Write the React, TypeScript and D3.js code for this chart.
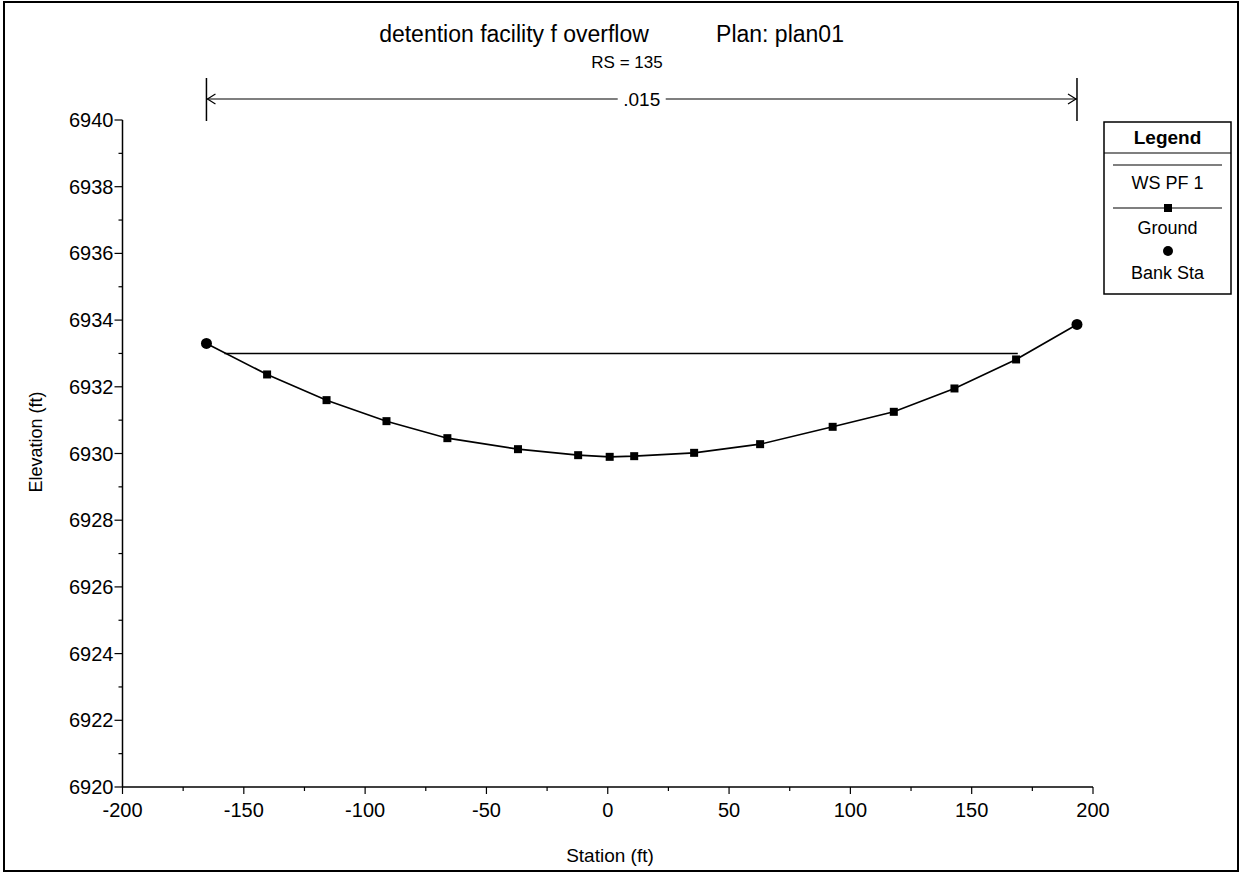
import React from "react";
import * as d3 from "d3";

const stations = [-165.4, -140.4, -115.9, -91.2, -66.1, -37.0, -12.2, 0.8, 10.9, 35.6, 62.8, 92.7, 117.9, 142.9, 168.3, 193.4];
const elevations = [6933.3, 6932.37, 6931.6, 6930.97, 6930.46, 6930.13, 6929.95, 6929.9, 6929.92, 6930.02, 6930.28, 6930.8, 6931.25, 6931.95, 6932.82, 6933.87];
const bankStations = [-165.4, 193.4];
const bankElevations = [6933.3, 6933.87];
const wsStations = [-158, 169];
const wsElevation = 6933.0;
const nValue = ".015";
const xMajorTicks = [-200, -150, -100, -50, 0, 50, 100, 150, 200];
const yMajorTicks = [6920, 6922, 6924, 6926, 6928, 6930, 6932, 6934, 6936, 6938, 6940];
const titleMain = "detention facility f overflow";
const titlePlan = "Plan: plan01";
const subtitle = "RS = 135";
const legendItems = ["WS PF 1", "Ground", "Bank Sta"];

const FONT = "'Liberation Sans', Arial, Helvetica, sans-serif";

export default function App() {
  const W = 1243;
  const H = 875;
  const x = d3.scaleLinear().domain([-200, 200]).range([122.5, 1093]);
  const y = d3.scaleLinear().domain([6920, 6940]).range([787, 120]);

  const xMinor = d3.range(-175, 200, 50);
  const yMinor = d3.range(6921, 6940, 2);

  const groundPts: [number, number][] = stations.map((s, i) => [s, elevations[i]]);
  const line = d3
    .line<[number, number]>()
    .x((d) => x(d[0]))
    .y((d) => y(d[1]));

  const axisX = x(-200);
  const axisY = y(6920);

  const lb = x(bankStations[0]);
  const rb = x(bankStations[1]);
  const arrowY = 99;
  const midX = (lb + rb) / 2;

  return (
    <svg
      width={W}
      height={H}
      style={{ position: "absolute", left: 0, top: 0, background: "#fff" }}
      fontFamily={FONT}
    >
      <rect x={0} y={0} width={W} height={H} fill="#fff" />
      {/* outer frame */}
      <rect x={4} y={2} width={1234} height={869} fill="none" stroke="#000" strokeWidth={2} />

      {/* titles */}
      <text x={514} y={42} fontSize={23} textAnchor="middle" fill="#000">
        {titleMain}
      </text>
      <text x={780} y={42} fontSize={23} textAnchor="middle" fill="#000">
        {titlePlan}
      </text>
      <text x={627} y={68} fontSize={17} textAnchor="middle" fill="#000">
        {subtitle}
      </text>

      {/* Manning's n annotation */}
      <line x1={lb} x2={lb} y1={78} y2={121} stroke="#000" strokeWidth={1.5} />
      <line x1={rb} x2={rb} y1={78} y2={121} stroke="#000" strokeWidth={1.5} />
      <line x1={lb} x2={midX - 24} y1={arrowY} y2={arrowY} stroke="#000" strokeWidth={1.2} />
      <line x1={midX + 24} x2={rb} y1={arrowY} y2={arrowY} stroke="#000" strokeWidth={1.2} />
      <path d={`M${lb + 9},${arrowY - 5} L${lb + 1},${arrowY} L${lb + 9},${arrowY + 5}`} fill="none" stroke="#000" strokeWidth={1.2} />
      <path d={`M${rb - 9},${arrowY - 5} L${rb - 1},${arrowY} L${rb - 9},${arrowY + 5}`} fill="none" stroke="#000" strokeWidth={1.2} />
      <text x={midX} y={arrowY + 7} fontSize={19} textAnchor="middle" fill="#000">
        {nValue}
      </text>

      {/* axes */}
      <line x1={axisX} x2={axisX} y1={y(6940)} y2={axisY} stroke="#000" strokeWidth={1.5} />
      <line x1={axisX} x2={x(200)} y1={axisY} y2={axisY} stroke="#000" strokeWidth={1.5} />

      {yMajorTicks.map((t) => (
        <g key={"ym" + t}>
          <line x1={axisX - 8} x2={axisX} y1={y(t)} y2={y(t)} stroke="#000" strokeWidth={1.2} />
          <text x={axisX - 9} y={y(t) + 7} fontSize={20} textAnchor="end" fill="#000">
            {t}
          </text>
        </g>
      ))}
      {yMinor.map((t) => (
        <line key={"yn" + t} x1={axisX - 4} x2={axisX} y1={y(t)} y2={y(t)} stroke="#000" strokeWidth={1.2} />
      ))}
      {xMajorTicks.map((t) => (
        <g key={"xm" + t}>
          <line x1={x(t)} x2={x(t)} y1={axisY} y2={axisY + 7} stroke="#000" strokeWidth={1.2} />
          <text x={x(t)} y={axisY + 30} fontSize={20} textAnchor="middle" fill="#000">
            {t}
          </text>
        </g>
      ))}
      {xMinor.map((t) => (
        <line key={"xn" + t} x1={x(t)} x2={x(t)} y1={axisY} y2={axisY + 4} stroke="#000" strokeWidth={1.2} />
      ))}

      <text x={610} y={862} fontSize={19} textAnchor="middle" fill="#000">
        Station (ft)
      </text>
      <text
        transform={`translate(42,442) rotate(-90)`}
        fontSize={18}
        textAnchor="middle"
        fill="#000"
      >
        Elevation (ft)
      </text>

      {/* WS line */}
      <line
        x1={x(wsStations[0])}
        x2={x(wsStations[1])}
        y1={y(wsElevation)}
        y2={y(wsElevation)}
        stroke="#000"
        strokeWidth={1.5}
      />

      {/* Ground */}
      <path d={line(groundPts) || ""} fill="none" stroke="#000" strokeWidth={1.6} />
      {groundPts.slice(1, -1).map((d, i) => (
        <rect key={"g" + i} x={x(d[0]) - 4} y={y(d[1]) - 4} width={8} height={8} fill="#000" />
      ))}
      {bankStations.map((s, i) => (
        <circle key={"b" + i} cx={x(s)} cy={y(bankElevations[i])} r={5.5} fill="#000" />
      ))}

      {/* legend */}
      <rect x={1104} y={122} width={127} height={172} fill="#fff" stroke="#000" strokeWidth={1.5} />
      <line x1={1104} x2={1231} y1={153} y2={153} stroke="#000" strokeWidth={1.2} />
      <text x={1167.5} y={144} fontSize={19} fontWeight="bold" textAnchor="middle" fill="#000">
        Legend
      </text>
      <line x1={1113} x2={1222} y1={165} y2={165} stroke="#000" strokeWidth={1.2} />
      <text x={1167.5} y={189} fontSize={18} textAnchor="middle" fill="#000">
        {legendItems[0]}
      </text>
      <line x1={1113} x2={1222} y1={208} y2={208} stroke="#000" strokeWidth={1.2} />
      <rect x={1164} y={204} width={8} height={8} fill="#000" />
      <text x={1167.5} y={234} fontSize={18} textAnchor="middle" fill="#000">
        {legendItems[1]}
      </text>
      <circle cx={1168} cy={251} r={5} fill="#000" />
      <text x={1167.5} y={279} fontSize={18} textAnchor="middle" fill="#000">
        {legendItems[2]}
      </text>
    </svg>
  );
}
